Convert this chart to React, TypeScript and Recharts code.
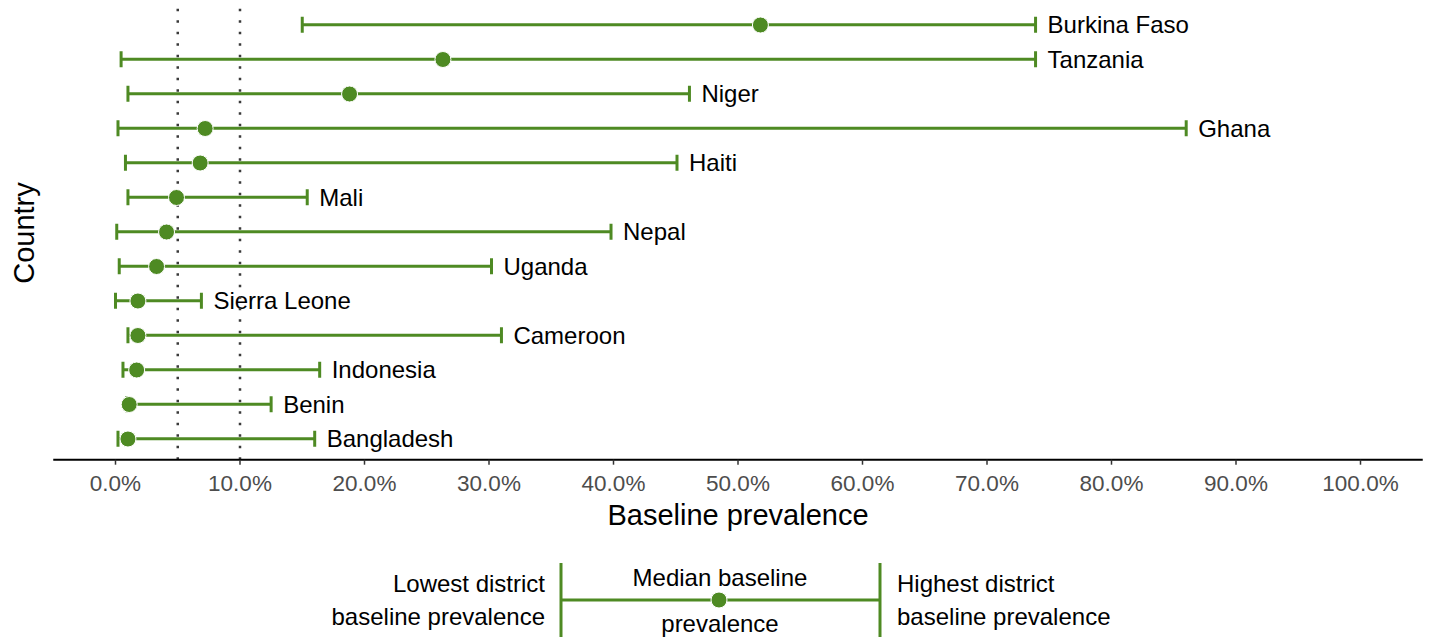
import {
  Bar,
  ComposedChart,
  Label,
  Line,
  ReferenceLine,
  XAxis,
  YAxis,
} from "recharts";

const GREEN = "#4e8a23";
const FONT = "'Liberation Sans', Arial, sans-serif";

const countries = [
  "Burkina Faso",
  "Tanzania",
  "Niger",
  "Ghana",
  "Haiti",
  "Mali",
  "Nepal",
  "Uganda",
  "Sierra Leone",
  "Cameroon",
  "Indonesia",
  "Benin",
  "Bangladesh",
];
const lowest = [15.0, 0.45, 1.0, 0.2, 0.8, 1.0, 0.1, 0.3, 0.0, 1.0, 0.6, 0.9, 0.2];
const median = [51.8, 26.3, 18.8, 7.2, 6.8, 4.9, 4.1, 3.3, 1.8, 1.8, 1.7, 1.1, 1.0];
const highest = [73.9, 73.9, 46.1, 86.0, 45.1, 15.4, 39.8, 30.2, 6.9, 31.0, 16.4, 12.5, 16.0];
const xTicks = [0, 10, 20, 30, 40, 50, 60, 70, 80, 90, 100];
const thresholds = [5, 10];

const rows = countries.map((country, i) => ({
  country,
  low: lowest[i],
  median: median[i],
  high: highest[i],
}));

// range line with end caps, country name right of the high end
const RangeShape = (props: any) => {
  const { x, y, width, height, payload } = props;
  const cy = y + height / 2;
  const x2 = x + width;
  return (
    <g>
      <line x1={x} y1={cy} x2={x2} y2={cy} stroke={GREEN} strokeWidth={3} />
      <line x1={x} y1={cy - 8} x2={x} y2={cy + 8} stroke={GREEN} strokeWidth={3} />
      <line x1={x2} y1={cy - 8} x2={x2} y2={cy + 8} stroke={GREEN} strokeWidth={3} />
      <text
        x={x2 + 12}
        y={cy}
        dy="0.36em"
        fontSize={24}
        fontFamily={FONT}
        fill="#000"
      >
        {payload.country}
      </text>
    </g>
  );
};

const Key = () => (
  <svg
    width={1429}
    height={637}
    style={{ position: "absolute", left: 0, top: 0, pointerEvents: "none" }}
    fontFamily={FONT}
  >
    <text
      transform="translate(34,233) rotate(-90)"
      textAnchor="middle"
      fontSize={29}
      fill="#000"
    >
      Country
    </text>
    <line x1={561} y1={563} x2={561} y2={637} stroke={GREEN} strokeWidth={3} />
    <line x1={880} y1={563} x2={880} y2={637} stroke={GREEN} strokeWidth={3} />
    <line x1={561} y1={600} x2={880} y2={600} stroke={GREEN} strokeWidth={3} />
    <circle cx={719} cy={600} r={8} fill={GREEN} stroke="#fff" strokeWidth={1} />
    <g fontSize={24} fill="#000">
      <text x={545} y={592} textAnchor="end">Lowest district</text>
      <text x={545} y={625} textAnchor="end">baseline prevalence</text>
      <text x={720} y={586} textAnchor="middle">Median baseline</text>
      <text x={720} y={632} textAnchor="middle">prevalence</text>
      <text x={897} y={592}>Highest district</text>
      <text x={897} y={625}>baseline prevalence</text>
    </g>
  </svg>
);

export default function App() {
  return (
    <div
      style={{
        position: "absolute",
        left: 0,
        top: 0,
        width: 1429,
        height: 637,
        background: "#fff",
        fontFamily: FONT,
      }}
    >
      <ComposedChart
        width={1429}
        height={540}
        data={rows}
        layout="vertical"
        margin={{ top: 4.3, right: 6.25, left: 53.25, bottom: 0 }}
      >
        <XAxis
          type="number"
          domain={[-5, 105]}
          ticks={xTicks}
          tickFormatter={(v: number) => `${v.toFixed(1)}%`}
          height={80.3}
          axisLine={{ stroke: "#000", strokeWidth: 2 }}
          tickLine={{ stroke: "#333", strokeWidth: 1.5 }}
          tickSize={5}
          tickMargin={10}
          tick={{ fill: "#4d4d4d", fontSize: 22.5, fontFamily: FONT }}
          allowDataOverflow
        >
          <Label
            value="Baseline prevalence"
            position="insideBottom"
            offset={15}
            fontSize={29}
            fill="#000"
            fontFamily={FONT}
          />
        </XAxis>
        <YAxis
          type="category"
          dataKey="country"
          hide
          padding={{ top: 3.45, bottom: 3.45 }}
        />
        <Bar
          dataKey={(d: any) => [d.low, d.high]}
          barSize={16}
          shape={RangeShape}
          isAnimationActive={false}
        />
        {thresholds.map((t) => (
          <ReferenceLine
            key={t}
            x={t}
            stroke="#3a3a3a"
            strokeWidth={2.5}
            strokeDasharray="2.5 9"
          />
        ))}
        <Line
          dataKey="median"
          stroke="none"
          dot={{ r: 8, fill: GREEN, stroke: "#fff", strokeWidth: 1 }}
          activeDot={false}
          isAnimationActive={false}
        />
      </ComposedChart>
      <Key />
    </div>
  );
}
